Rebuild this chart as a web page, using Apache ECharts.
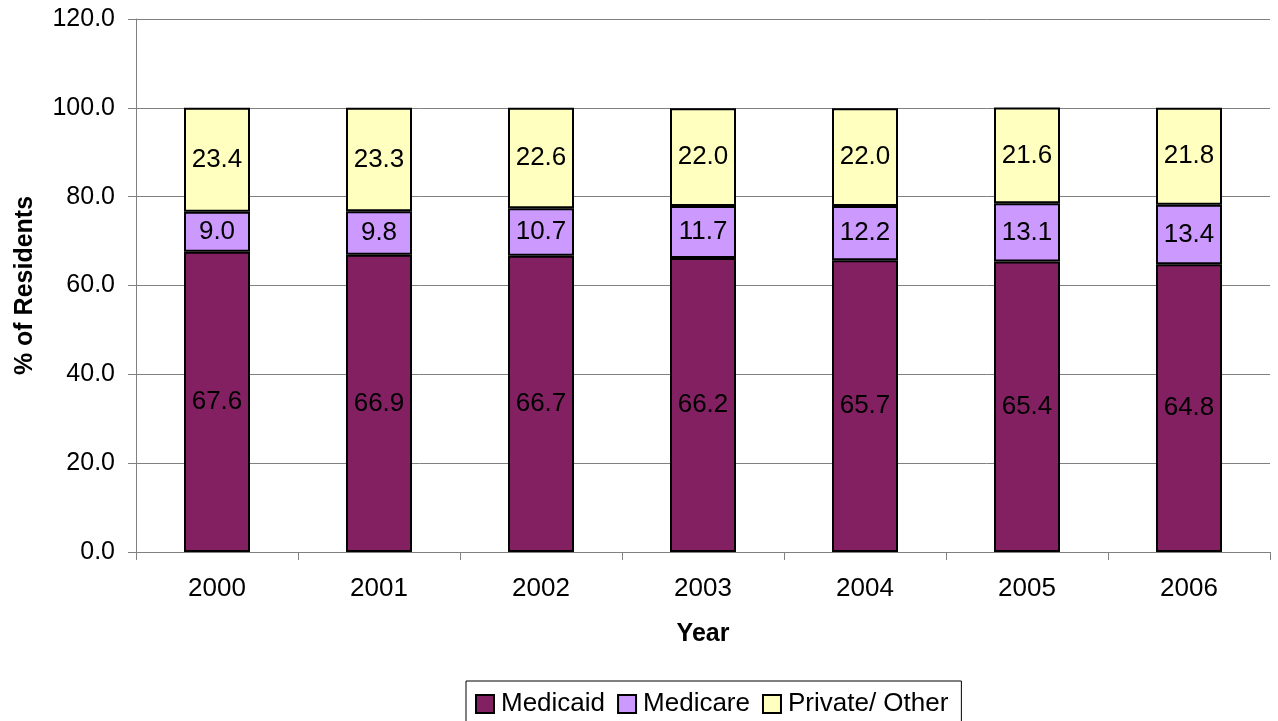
<!DOCTYPE html>
<html>
<head>
<meta charset="utf-8">
<script src="https://cdn.jsdelivr.net/npm/echarts@6/dist/echarts.min.js"></script>
<style>
  html, body { margin: 0; padding: 0; background: #fff; }
  #chart { width: 1278px; height: 721px; }
</style>
</head>
<body>
<div id="chart"></div>
<script>
const years = ['2000', '2001', '2002', '2003', '2004', '2005', '2006']
const medicaid = [67.6, 66.9, 66.7, 66.2, 65.7, 65.4, 64.8]
const medicare = [9.0, 9.8, 10.7, 11.7, 12.2, 13.1, 13.4]
const privateOther = [23.4, 23.3, 22.6, 22.0, 22.0, 21.6, 21.8]

const font = 'Liberation Sans, Arial, sans-serif'

const chart = echarts.init(document.getElementById('chart'), null, { renderer: 'canvas' })

// shared bar styling
const barSeries = (name, data, color) => ({
  name,
  type: 'bar',
  stack: 'total',
  data,
  barWidth: 66,
  itemStyle: { color, borderColor: '#000', borderWidth: 2 },
  label: {
    show: true,
    position: 'inside',
    color: '#000',
    fontFamily: font,
    fontSize: 26,
    formatter: (p) => p.value.toFixed(1),
  },
})

const legendIcon = { borderColor: '#000', borderWidth: 2 }

chart.setOption({
  backgroundColor: '#fff',
  animation: false,
  grid: { left: 136, right: 8, top: 19, bottom: 169 },
  legend: {
    top: 681,
    left: 466,
    icon: 'rect',
    itemWidth: 18,
    itemHeight: 18,
    itemGap: 12,
    padding: [10, 13, 30, 9],
    borderColor: '#000',
    borderWidth: 1,
    borderRadius: 0,
    textStyle: {
      color: '#000',
      fontFamily: font,
      fontSize: 26,
      lineHeight: 20,
      padding: [0, 0, 0, 2],
    },
    data: [
      { name: 'Medicaid', itemStyle: legendIcon },
      { name: 'Medicare', itemStyle: legendIcon },
      { name: 'Private/ Other', itemStyle: legendIcon },
    ],
  },
  xAxis: {
    type: 'category',
    data: years,
    name: 'Year',
    nameLocation: 'middle',
    nameGap: 70,
    nameTextStyle: { color: '#000', fontFamily: font, fontSize: 25, fontWeight: 'bold' },
    axisLine: { lineStyle: { color: '#808080', width: 1 } },
    axisTick: { show: true, length: 8, lineStyle: { color: '#808080' } },
    axisLabel: { color: '#000', fontFamily: font, fontSize: 26, margin: 24 },
  },
  yAxis: {
    type: 'value',
    min: 0,
    max: 120,
    interval: 20,
    name: '% of Residents',
    nameLocation: 'middle',
    nameGap: 98,
    nameTextStyle: { color: '#000', fontFamily: font, fontSize: 25, fontWeight: 'bold' },
    axisLine: { show: true, lineStyle: { color: '#808080', width: 1 } },
    axisTick: { show: true, length: 8, lineStyle: { color: '#808080' } },
    axisLabel: {
      color: '#000',
      fontFamily: font,
      fontSize: 25,
      margin: 21,
      formatter: (v) => v.toFixed(1),
    },
    splitLine: { lineStyle: { color: '#808080', width: 1 } },
  },
  series: [
    barSeries('Medicaid', medicaid, '#822062'),
    barSeries('Medicare', medicare, '#CC99FF'),
    barSeries('Private/ Other', privateOther, '#FFFFC0'),
  ],
})
</script>
</body>
</html>
